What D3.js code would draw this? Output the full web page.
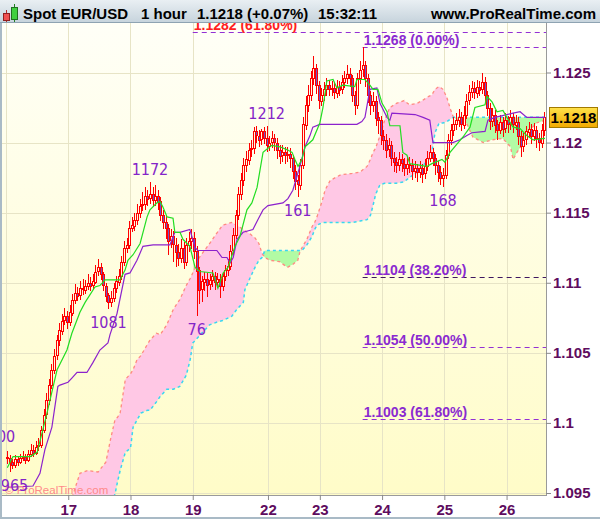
<!DOCTYPE html>
<html>
<head>
<meta charset="utf-8">
<script src="https://cdn.jsdelivr.net/npm/d3@7"></script>
<style>
body { margin: 0; background: #fff; }
svg { display: block; font-family: "Liberation Sans", Arial, sans-serif; }
</style>
</head>
<body>
<div id="chart"></div>
<script>
// hourly candles, bar 0 = 16th, last bar = 26th 15:00
var candleOpen = [
1.0976,1.0975,1.0972,1.0970,1.0974,1.0972,1.0975,1.0976,1.0974,1.0978,
1.0981,1.0979,1.0983,1.0984,1.0995,1.1006,1.1016,1.1027,1.1038,1.1048,
1.1059,1.1066,1.1073,1.1076,1.1072,1.1079,1.1088,1.1093,1.1091,1.1096,
1.1095,1.1098,1.1100,1.1098,1.1101,1.1108,1.1111,1.1106,1.1098,1.1091,
1.1086,1.1089,1.1096,1.1101,1.1105,1.1115,1.1125,1.1127,1.1139,1.1141,
1.1145,1.1150,1.1155,1.1156,1.1162,1.1160,1.1163,1.1159,1.1162,1.1158,
1.1148,1.1143,1.1139,1.1130,1.1133,1.1127,1.1122,1.1118,1.1125,1.1115,
1.1127,1.1130,1.1132,1.1123,1.1109,1.1095,1.1101,1.1103,1.1099,1.1102,
1.1105,1.1101,1.1103,1.1098,1.1105,1.1109,1.1112,1.1123,1.1134,1.1148,
1.1163,1.1173,1.1184,1.1188,1.1195,1.1196,1.1208,1.1205,1.1202,1.1208,
1.1203,1.1198,1.1200,1.1203,1.1200,1.1195,1.1191,1.1193,1.1191,1.1192,
1.1189,1.1180,1.1173,1.1170,1.1184,1.1213,1.1227,1.1234,1.1246,1.1253,
1.1241,1.1230,1.1234,1.1238,1.1241,1.1238,1.1239,1.1236,1.1240,1.1238,
1.1243,1.1246,1.1249,1.1246,1.1234,1.1227,1.1246,1.1252,1.1255,1.1246,
1.1234,1.1227,1.1230,1.1218,1.1216,1.1205,1.1202,1.1195,1.1198,1.1189,
1.1186,1.1184,1.1188,1.1185,1.1182,1.1185,1.1184,1.1180,1.1182,1.1179,
1.1182,1.1178,1.1183,1.1189,1.1193,1.1189,1.1184,1.1179,1.1175,1.1177,
1.1191,1.1202,1.1209,1.1213,1.1216,1.1218,1.1213,1.1220,1.1230,1.1236,
1.1239,1.1236,1.1240,1.1238,1.1243,1.1234,1.1225,1.1216,1.1220,1.1213,
1.1209,1.1215,1.1210,1.1216,1.1213,1.1218,1.1213,1.1215,1.1205,1.1198,
1.1202,1.1208,1.1210,1.1205,1.1209,1.1203,1.1200,1.1209];
var candleHigh = [
1.0980,1.0977,1.0974,1.0977,1.0976,1.0978,1.0980,1.0978,1.0981,1.0985,
1.0984,1.0987,1.0989,1.0998,1.1010,1.1021,1.1031,1.1042,1.1053,1.1063,
1.1071,1.1078,1.1082,1.1080,1.1084,1.1092,1.1099,1.1097,1.1101,1.1103,
1.1102,1.1106,1.1104,1.1106,1.1113,1.1117,1.1114,1.1108,1.1100,1.1093,
1.1094,1.1100,1.1105,1.1110,1.1119,1.1130,1.1132,1.1144,1.1147,1.1150,
1.1156,1.1160,1.1165,1.1168,1.1166,1.1172,1.1168,1.1170,1.1166,1.1161,
1.1152,1.1148,1.1142,1.1138,1.1137,1.1132,1.1128,1.1131,1.1129,1.1132,
1.1136,1.1138,1.1136,1.1126,1.1111,1.1105,1.1108,1.1107,1.1106,1.1109,
1.1108,1.1107,1.1106,1.1108,1.1113,1.1117,1.1127,1.1139,1.1152,1.1168,
1.1178,1.1189,1.1194,1.1200,1.1202,1.1211,1.1212,1.1209,1.1210,1.1211,
1.1212,1.1205,1.1208,1.1206,1.1203,1.1198,1.1198,1.1197,1.1197,1.1196,
1.1191,1.1184,1.1177,1.1188,1.1218,1.1233,1.1241,1.1251,1.1262,1.1256,
1.1244,1.1239,1.1243,1.1246,1.1245,1.1244,1.1243,1.1245,1.1244,1.1248,
1.1251,1.1255,1.1253,1.1248,1.1237,1.1250,1.1258,1.1268,1.1258,1.1249,
1.1237,1.1236,1.1233,1.1222,1.1219,1.1209,1.1206,1.1203,1.1201,1.1193,
1.1190,1.1193,1.1192,1.1189,1.1190,1.1190,1.1188,1.1187,1.1185,1.1187,
1.1185,1.1188,1.1194,1.1198,1.1196,1.1192,1.1187,1.1183,1.1182,1.1195,
1.1206,1.1213,1.1218,1.1221,1.1224,1.1222,1.1226,1.1235,1.1241,1.1244,
1.1243,1.1245,1.1244,1.1250,1.1247,1.1237,1.1228,1.1225,1.1223,1.1216,
1.1220,1.1218,1.1221,1.1219,1.1223,1.1221,1.1220,1.1218,1.1208,1.1207,
1.1212,1.1215,1.1213,1.1214,1.1212,1.1207,1.1213,1.1222];
var candleLow = [
1.0971,1.0965,1.0967,1.0968,1.0969,1.0971,1.0973,1.0971,1.0972,1.0976,
1.0976,1.0977,1.0980,1.0982,1.0993,1.1003,1.1013,1.1024,1.1035,1.1045,
1.1055,1.1063,1.1070,1.1067,1.1069,1.1076,1.1085,1.1087,1.1088,1.1091,
1.1092,1.1095,1.1094,1.1095,1.1099,1.1105,1.1102,1.1094,1.1086,1.1081,
1.1083,1.1086,1.1093,1.1098,1.1102,1.1112,1.1121,1.1124,1.1136,1.1137,
1.1141,1.1146,1.1151,1.1152,1.1155,1.1156,1.1154,1.1155,1.1152,1.1144,
1.1138,1.1131,1.1120,1.1125,1.1115,1.1111,1.1112,1.1114,1.1110,1.1112,
1.1122,1.1124,1.1117,1.1076,1.1085,1.1086,1.1094,1.1090,1.1095,1.1097,
1.1095,1.1096,1.1089,1.1094,1.1101,1.1105,1.1109,1.1120,1.1131,1.1145,
1.1159,1.1169,1.1179,1.1184,1.1190,1.1192,1.1200,1.1197,1.1198,1.1199,
1.1193,1.1194,1.1196,1.1194,1.1188,1.1185,1.1186,1.1185,1.1186,1.1182,
1.1174,1.1166,1.1161,1.1166,1.1181,1.1209,1.1222,1.1230,1.1241,1.1235,
1.1224,1.1226,1.1230,1.1233,1.1233,1.1233,1.1231,1.1232,1.1233,1.1235,
1.1239,1.1242,1.1240,1.1229,1.1220,1.1224,1.1242,1.1247,1.1240,1.1228,
1.1220,1.1222,1.1212,1.1206,1.1198,1.1195,1.1189,1.1190,1.1183,1.1179,
1.1178,1.1180,1.1179,1.1176,1.1177,1.1178,1.1173,1.1175,1.1172,1.1175,
1.1171,1.1174,1.1180,1.1186,1.1183,1.1177,1.1172,1.1170,1.1168,1.1174,
1.1188,1.1198,1.1205,1.1209,1.1211,1.1208,1.1210,1.1217,1.1227,1.1232,
1.1231,1.1232,1.1233,1.1235,1.1229,1.1219,1.1209,1.1211,1.1207,1.1202,
1.1206,1.1204,1.1207,1.1207,1.1209,1.1207,1.1209,1.1198,1.1190,1.1193,
1.1198,1.1203,1.1199,1.1201,1.1196,1.1194,1.1196,1.1205];
var candleClose = [
1.0975,1.0972,1.0970,1.0974,1.0972,1.0975,1.0976,1.0974,1.0978,1.0981,
1.0979,1.0983,1.0984,1.0995,1.1006,1.1016,1.1027,1.1038,1.1048,1.1059,
1.1066,1.1073,1.1076,1.1072,1.1079,1.1088,1.1093,1.1091,1.1096,1.1095,
1.1098,1.1100,1.1098,1.1101,1.1108,1.1111,1.1106,1.1098,1.1091,1.1086,
1.1089,1.1096,1.1101,1.1105,1.1115,1.1125,1.1127,1.1139,1.1141,1.1145,
1.1150,1.1155,1.1156,1.1162,1.1160,1.1163,1.1159,1.1162,1.1158,1.1148,
1.1143,1.1139,1.1130,1.1133,1.1127,1.1122,1.1118,1.1125,1.1115,1.1127,
1.1130,1.1132,1.1123,1.1109,1.1095,1.1101,1.1103,1.1099,1.1102,1.1105,
1.1101,1.1103,1.1098,1.1105,1.1109,1.1112,1.1123,1.1134,1.1148,1.1163,
1.1173,1.1184,1.1188,1.1195,1.1196,1.1208,1.1205,1.1202,1.1208,1.1203,
1.1198,1.1200,1.1203,1.1200,1.1195,1.1191,1.1193,1.1191,1.1192,1.1189,
1.1180,1.1173,1.1170,1.1184,1.1213,1.1227,1.1234,1.1246,1.1253,1.1241,
1.1230,1.1234,1.1238,1.1241,1.1238,1.1239,1.1236,1.1240,1.1238,1.1243,
1.1246,1.1249,1.1246,1.1234,1.1227,1.1246,1.1252,1.1255,1.1246,1.1234,
1.1227,1.1230,1.1218,1.1216,1.1205,1.1202,1.1195,1.1198,1.1189,1.1186,
1.1184,1.1188,1.1185,1.1182,1.1185,1.1184,1.1180,1.1182,1.1179,1.1182,
1.1178,1.1183,1.1189,1.1193,1.1189,1.1184,1.1179,1.1175,1.1177,1.1191,
1.1202,1.1209,1.1213,1.1216,1.1218,1.1213,1.1220,1.1230,1.1236,1.1239,
1.1236,1.1240,1.1238,1.1243,1.1234,1.1225,1.1216,1.1220,1.1213,1.1209,
1.1215,1.1210,1.1216,1.1213,1.1218,1.1213,1.1215,1.1205,1.1198,1.1202,
1.1208,1.1210,1.1205,1.1209,1.1203,1.1200,1.1209,1.1218];

// green line (fast) and purple line (slow), read as [bar, price]
var tenkan = [[0,1.0968],[2.2,1.0976],[8.8,1.0976],[11.5,1.0979],[15.3,1.1007],[19.2,1.1038],[23,1.1052],[24.9,1.1064],[28,1.1079],[30,1.1086],[33.8,1.1097],[35.7,1.1098],[37.7,1.1102],[43.4,1.1102],[45.4,1.1109],[46.5,1.1116],[48.5,1.1120],[51.2,1.1128],[53.9,1.1147],[55,1.1152],[57.7,1.1157],[58.9,1.1158],[60,1.1154],[61.6,1.1147],[63.9,1.1146],[64.6,1.1136],[66.6,1.1136],[67.7,1.1131],[70.4,1.1126],[72.4,1.1111],[74.3,1.1108],[79.3,1.1107],[81.2,1.1096],[83.2,1.1107],[85.1,1.1111],[87.8,1.1126],[89.7,1.1133],[92.4,1.1152],[94.3,1.1157],[96.3,1.1168],[97.4,1.1180],[98.6,1.1193],[100.5,1.1196],[102,1.1198],[105.1,1.1197],[107.8,1.1195],[109.8,1.1193],[110.9,1.1188],[112.1,1.1183],[113.6,1.1188],[114.8,1.1197],[117.8,1.1202],[120.5,1.1214],[121.7,1.1225],[123.2,1.1244],[125.6,1.1245],[127.1,1.1239],[129.4,1.1241],[134,1.1240],[134.8,1.1245],[137.9,1.1245],[139.8,1.1241],[141,1.1238],[142.9,1.1238],[144.5,1.1228],[146.4,1.1222],[147.5,1.1212],[151.4,1.1212],[152.5,1.1193],[154.1,1.1191],[155.2,1.1185],[161.8,1.1183],[163.7,1.1185],[167.6,1.1188],[168.7,1.1186],[170.7,1.1193],[175.7,1.1204],[178.4,1.1211],[180.3,1.1225],[184.2,1.1227],[184.9,1.1233],[186.9,1.1229],[188.8,1.1222],[191.1,1.1223],[192.6,1.1218],[195,1.1211],[197.7,1.1210],[200.3,1.1205],[202.7,1.1202],[207.3,1.1203]];
var kijun = [[0,1.0954],[9.9,1.0955],[12.6,1.0964],[14.5,1.0981],[17.2,1.0997],[19.5,1.1026],[20.3,1.1027],[23.4,1.1029],[24.9,1.1032],[26.9,1.1036],[30.7,1.1036],[33,1.1043],[35.7,1.1052],[38.8,1.1057],[39.6,1.1063],[42.3,1.1078],[45.4,1.1106],[47.3,1.1107],[50,1.1116],[52.3,1.1126],[56.2,1.1127],[62.7,1.1127],[64.6,1.1136],[66.6,1.1136],[70.4,1.1138],[72.4,1.1125],[73.5,1.1123],[80.8,1.1123],[82.8,1.1118],[84.7,1.1118],[85.9,1.1114],[87.1,1.1118],[88.6,1.1131],[90.9,1.1136],[94.7,1.1138],[96.6,1.1145],[98.6,1.1152],[100.5,1.1155],[106.3,1.1157],[108.2,1.1160],[110.1,1.1166],[112.8,1.1183],[114.8,1.1197],[116.7,1.1205],[117.8,1.1211],[120.5,1.1213],[134.8,1.1213],[136.7,1.1215],[137.9,1.1218],[139.8,1.1238],[142.5,1.1239],[143.7,1.1228],[146.4,1.1218],[147.5,1.1216],[148.3,1.1221],[157.2,1.1220],[160.3,1.1218],[162.9,1.1216],[164.1,1.1200],[169.9,1.1200],[171.8,1.1200],[174.5,1.1202],[177.2,1.1205],[179.1,1.1207],[184.2,1.1208],[185.3,1.1216],[188,1.1218],[195,1.1221],[197.7,1.1222],[200.3,1.1218],[207.3,1.1218]];

// cloud: span A (salmon edge) and span B (cyan edge) at the same bars
var cloudIdx = [25,28,31,35,38,40,41.5,42.5,43.5,45.5,47.5,48.5,50,51.5,54,55,57.5,59,61.5,64,66.5,69,70.5,71.5,74,78,81,83,86.5,88.5,91,91.6,93.5,95.5,97,98.2,99.3,101.3,105,108,110,112,112.8,113.6,115.5,117.5,118.5,119.4,121.5,122.5,124.5,128.5,133,136,138.7,140,141,142,143.7,145.5,147.5,150,153,155,158,160,162.5,163.7,164.9,166.5,168,169.5,171,172,174.5,177,179.5,183.5,187,191,194,195,196.5,199,201.5,204,207.5];
var spanA = [1.0947,1.0964,1.0966,1.0965,1.0972,1.0990,1.1002,1.1004,1.1007,1.1031,1.1035,1.1038,1.1045,1.1048,1.1056,1.1059,1.1064,1.1063,1.1070,1.1081,1.1088,1.1098,1.1103,1.1107,1.1118,1.1128,1.1136,1.1141,1.1143,1.1141,1.1138,1.1137,1.1135,1.1132,1.1128,1.1121,1.1118,1.1116,1.1115,1.1111,1.1113,1.1116,1.1122,1.1125,1.1131,1.1140,1.1143,1.1147,1.1159,1.1166,1.1173,1.1177,1.1178,1.1179,1.1183,1.1188,1.1193,1.1196,1.1205,1.1216,1.1225,1.1228,1.1230,1.1227,1.1228,1.1230,1.1233,1.1234,1.1238,1.1240,1.1238,1.1232,1.1223,1.1218,1.1215,1.1214,1.1204,1.1200,1.1202,1.1203,1.1197,1.1188,1.1193,1.1200,1.1209,1.1214,1.1216];
var spanB = [1.0924,1.0927,1.0931,1.0934,1.0939,1.0944,1.0949,1.0958,1.0966,1.0979,1.0982,1.0997,1.1002,1.1007,1.1009,1.1009,1.1015,1.1019,1.1024,1.1024,1.1026,1.1034,1.1045,1.1057,1.1062,1.1070,1.1072,1.1073,1.1076,1.1081,1.1086,1.1095,1.1103,1.1111,1.1116,1.1118,1.1123,1.1123,1.1123,1.1123,1.1123,1.1123,1.1123,1.1123,1.1127,1.1133,1.1138,1.1141,1.1143,1.1143,1.1143,1.1143,1.1143,1.1144,1.1145,1.1148,1.1155,1.1163,1.1170,1.1171,1.1171,1.1171,1.1172,1.1175,1.1179,1.1183,1.1188,1.1193,1.1207,1.1214,1.1214,1.1215,1.1217,1.1218,1.1218,1.1218,1.1218,1.1218,1.1218,1.1218,1.1218,1.1218,1.1218,1.1218,1.1218,1.1218,1.1218];

// fibonacci levels
var fibPrice = [1.1279, 1.1268, 1.1104, 1.1054, 1.1003];
var fibLabel = ["1.1282 (61.80%)", "1.1268 (0.00%)", "1.1104 (38.20%)", "1.1054 (50.00%)", "1.1003 (61.80%)"];
var fibStart = [71.5, 137, 137, 137, 137];

// swing labels
var waveText = ["1000", "0965", "1081", "1172", "76", "1212", "161", "168"];
var waveIdx = [-4, 1, 39, 55, 73, 100, 112, 168];
var wavePrice = [1.1000, 1.0965, 1.1081, 1.1172, 1.1076, 1.1212, 1.1161, 1.1168];
var waveSide = ["lo", "lo", "lo", "hi", "lo", "hi", "lo", "lo"];

var priceTicks = [1.095, 1.1, 1.105, 1.11, 1.115, 1.12, 1.125];
var priceTickLabels = ["1.095", "1.1", "1.105", "1.11", "1.115", "1.12", "1.125"];
var dayTicks = [-0.5, 23.5, 47.5, 71.5, 100.5, 120.5, 144.5, 168.5, 192.5];
var dayLabels = ["16", "17", "18", "19", "22", "23", "24", "25", "26"];

function init() {
    var W = 600, H = 519;
    var L = 2, R = 546, T = 23, B = 495;

    var svg = d3.select("#chart").append("svg")
        .attr("width", W).attr("height", H);
    var defs = svg.append("defs");

    function grad(id, c0, c1) {
        var g = defs.append("linearGradient").attr("id", id)
            .attr("x1", 0).attr("y1", 0).attr("x2", 0).attr("y2", 1);
        g.append("stop").attr("offset", 0).attr("stop-color", c0);
        g.append("stop").attr("offset", 1).attr("stop-color", c1);
    }
    grad("bg", "#fffff7", "#fffcc8");
    grad("head", "#e9eff3", "#c6d3dc");
    grad("pbox", "#ffe24a", "#f2a900");

    defs.append("clipPath").attr("id", "plotclip")
        .append("rect").attr("x", L).attr("y", T).attr("width", R - L).attr("height", B - T);

    var x = d3.scaleLinear().domain([-0.5, 207.7]).range([6, 546]);
    var y = d3.scaleLinear().domain([1.095, 1.125]).range([493, 72.5]);

    svg.append("rect").attr("x", L).attr("y", T).attr("width", R - L).attr("height", B - T)
        .attr("fill", "url(#bg)");

    var plot = svg.append("g").attr("clip-path", "url(#plotclip)");

    // grid
    plot.append("g").selectAll("line").data(dayTicks).enter().append("line")
        .attr("x1", d => Math.round(x(d)) + 0.5).attr("x2", d => Math.round(x(d)) + 0.5)
        .attr("y1", T).attr("y2", B)
        .attr("stroke", "#e7e4c6");
    plot.append("g").selectAll("line").data(priceTicks).enter().append("line")
        .attr("x1", L).attr("x2", R)
        .attr("y1", d => Math.round(y(d)) + 0.5).attr("y2", d => Math.round(y(d)) + 0.5)
        .attr("stroke", "#e7e4c6");

    // cloud
    var cloud = cloudIdx.map((d, k) => ({ i: d, a: spanA[k], b: spanB[k] }));
    defs.append("clipPath").attr("id", "aboveB").append("path")
        .attr("d", d3.area().x(d => x(d.i)).y0(0).y1(d => y(d.b))(cloud));
    defs.append("clipPath").attr("id", "belowB").append("path")
        .attr("d", d3.area().x(d => x(d.i)).y0(H).y1(d => y(d.b))(cloud));
    var band = d3.area().x(d => x(d.i)).y0(d => y(d.a)).y1(d => y(d.b));
    plot.append("path").attr("d", band(cloud)).attr("fill", "#ffc8e5").attr("clip-path", "url(#aboveB)");
    plot.append("path").attr("d", band(cloud)).attr("fill", "#b2fba4").attr("clip-path", "url(#belowB)");
    plot.append("path").attr("d", d3.line().x(d => x(d.i)).y(d => y(d.a))(cloud))
        .attr("fill", "none").attr("stroke", "#ff8a80").attr("stroke-width", 1.3)
        .attr("stroke-dasharray", "3,3");
    plot.append("path").attr("d", d3.line().x(d => x(d.i)).y(d => y(d.b))(cloud))
        .attr("fill", "none").attr("stroke", "#38d6f2").attr("stroke-width", 1.5)
        .attr("stroke-dasharray", "3,3");

    // fibonacci lines
    var fib = fibPrice.map((p, k) => ({ p: p, t: fibLabel[k], s: fibStart[k], k: k }));
    plot.append("g").selectAll("line").data(fib).enter().append("line")
        .attr("x1", d => x(d.s)).attr("x2", R)
        .attr("y1", d => Math.round(y(d.p)) + 0.5).attr("y2", d => Math.round(y(d.p)) + 0.5)
        .attr("stroke", d => d.k == 2 ? "#3e1660" : "#9330d4")
        .attr("stroke-width", 1.2)
        .attr("stroke-dasharray", "5,4");
    plot.append("g").selectAll("text").data(fib).enter().append("text")
        .attr("x", d => x(d.s) + 1).attr("y", d => Math.round(y(d.p)) - 2.5)
        .attr("font-size", 14).attr("font-weight", "bold")
        .attr("fill", d => d.k == 0 ? "#ff2020" : "#8a2ad0")
        .text(d => d.t);

    // candles
    var bars = candleClose.map((c, i) => ({ i: i, o: candleOpen[i], h: candleHigh[i], l: candleLow[i], c: c }));
    var cg = plot.append("g").attr("shape-rendering", "crispEdges");
    cg.selectAll("line").data(bars).enter().append("line")
        .attr("x1", d => Math.round(x(d.i)) + 0.5).attr("x2", d => Math.round(x(d.i)) + 0.5)
        .attr("y1", d => y(d.h)).attr("y2", d => y(d.l))
        .attr("stroke", "#ff0000");
    cg.selectAll("rect").data(bars).enter().append("rect")
        .attr("x", d => Math.round(x(d.i)) - 0.5)
        .attr("width", 2)
        .attr("y", d => Math.round(y(Math.max(d.o, d.c))) + 0.5)
        .attr("height", d => Math.max(1, Math.round(Math.abs(y(d.o) - y(d.c)))))
        .attr("fill", d => d.c < d.o ? "#6b55c9" : "#fffbe0")
        .attr("stroke", "#ff0000");

    // indicator lines
    plot.append("path").attr("d", d3.line().x(d => x(d[0])).y(d => y(d[1]))(kijun))
        .attr("fill", "none").attr("stroke", "#8c22cc").attr("stroke-width", 1.2);
    plot.append("path").attr("d", d3.line().x(d => x(d[0])).y(d => y(d[1]))(tenkan))
        .attr("fill", "none").attr("stroke", "#22dd22").attr("stroke-width", 1.2);

    // watermark
    plot.append("text").attr("x", 5).attr("y", 494)
        .attr("font-size", 11.5).attr("fill", "#ff8a8a")
        .text("\u00a9 ProRealTime.com");

    // swing labels
    var waves = waveText.map((t, k) => ({ t: t, i: waveIdx[k], p: wavePrice[k], s: waveSide[k] }));
    plot.append("g").selectAll("text").data(waves).enter().append("text")
        .attr("x", d => x(d.i))
        .attr("y", d => d.s == "hi" ? y(d.p) - 7 : y(d.p) + 19)
        .attr("text-anchor", "middle")
        .attr("font-family", "'DejaVu Sans Condensed', 'DejaVu Sans', sans-serif")
        .attr("font-stretch", "condensed")
        .attr("font-size", 16)
        .attr("fill", "#8424c8")
        .text(d => d.t);

    // frame
    svg.append("line").attr("x1", R + 0.5).attr("x2", R + 0.5).attr("y1", T).attr("y2", B + 1)
        .attr("stroke", "#9a9a9a");
    svg.append("line").attr("x1", L).attr("x2", R + 1).attr("y1", B + 0.5).attr("y2", B + 0.5)
        .attr("stroke", "#9a9a9a");
    svg.append("rect").attr("x", 0).attr("y", T).attr("width", 2).attr("height", H - T)
        .attr("fill", "#a9bac6");
    svg.append("rect").attr("x", 0).attr("y", H - 2).attr("width", W).attr("height", 2)
        .attr("fill", "#a9bac6");

    // axes
    var yAxis = svg.append("g").attr("transform", "translate(" + R + ",0)")
        .call(d3.axisRight(y).tickValues(priceTicks).tickSize(5).tickPadding(2)
            .tickFormat((d, k) => priceTickLabels[k]));
    yAxis.select(".domain").remove();
    yAxis.selectAll("line").attr("stroke", "#8a8a8a");
    yAxis.selectAll("text").attr("font-size", 15).attr("font-weight", "bold")
        .attr("font-family", "'Liberation Sans', Arial, sans-serif").attr("fill", "#5e0c5e");

    var xAxis = svg.append("g").attr("transform", "translate(0," + B + ")")
        .call(d3.axisBottom(x).tickValues(dayTicks).tickSize(5).tickPadding(4)
            .tickFormat((d, k) => dayLabels[k]));
    xAxis.select(".domain").remove();
    xAxis.selectAll("line").attr("stroke", "#8a8a8a");
    xAxis.selectAll("text").attr("font-size", 15).attr("font-weight", "bold")
        .attr("font-family", "'Liberation Sans', Arial, sans-serif").attr("fill", "#5e0c5e");
    xAxis.selectAll(".tick").filter(d => x(d) < 20).remove();

    // last price box
    var last = candleClose[candleClose.length - 1];
    var yl = Math.round(y(last));
    svg.append("rect").attr("x", 549.5).attr("y", yl - 9.5).attr("width", 48).attr("height", 20)
        .attr("fill", "url(#pbox)").attr("stroke", "#a27a00");
    svg.append("text").attr("x", 573.5).attr("y", yl + 6)
        .attr("text-anchor", "middle").attr("font-size", 15).attr("font-weight", "bold")
        .attr("fill", "#000").text(d3.format(".4f")(last));

    // header
    svg.append("rect").attr("x", 0).attr("y", 0).attr("width", W).attr("height", T)
        .attr("fill", "url(#head)");
    svg.append("line").attr("x1", 0).attr("x2", W).attr("y1", T - 0.5).attr("y2", T - 0.5)
        .attr("stroke", "#8ea3b2");
    // little candle icon
    svg.append("line").attr("x1", 6.5).attr("x2", 6.5).attr("y1", 10).attr("y2", 22).attr("stroke", "#b03030");
    svg.append("rect").attr("x", 3.5).attr("y", 13.5).attr("width", 6).attr("height", 7)
        .attr("fill", "#f05050").attr("stroke", "#902020");
    svg.append("line").attr("x1", 14.5).attr("x2", 14.5).attr("y1", 4).attr("y2", 22).attr("stroke", "#208020");
    svg.append("rect").attr("x", 11.5).attr("y", 7.5).attr("width", 6).attr("height", 12)
        .attr("fill", "#40d040").attr("stroke", "#207020");

    var head = svg.append("g").attr("font-size", 15).attr("font-weight", "bold").attr("fill", "#000");
    head.append("text").attr("x", 23).attr("y", 19).text("Spot EUR/USD");
    head.append("text").attr("x", 141).attr("y", 19).text("1 hour");
    head.append("text").attr("x", 197).attr("y", 19).text(d3.format(".4f")(last) + " (+0.07%)");
    head.append("text").attr("x", 318).attr("y", 19).text("15:32:11");
    head.append("text").attr("x", 596).attr("y", 19).attr("text-anchor", "end").text("www.ProRealTime.com");
}

window.onload = init;
</script>
</body>
</html>
